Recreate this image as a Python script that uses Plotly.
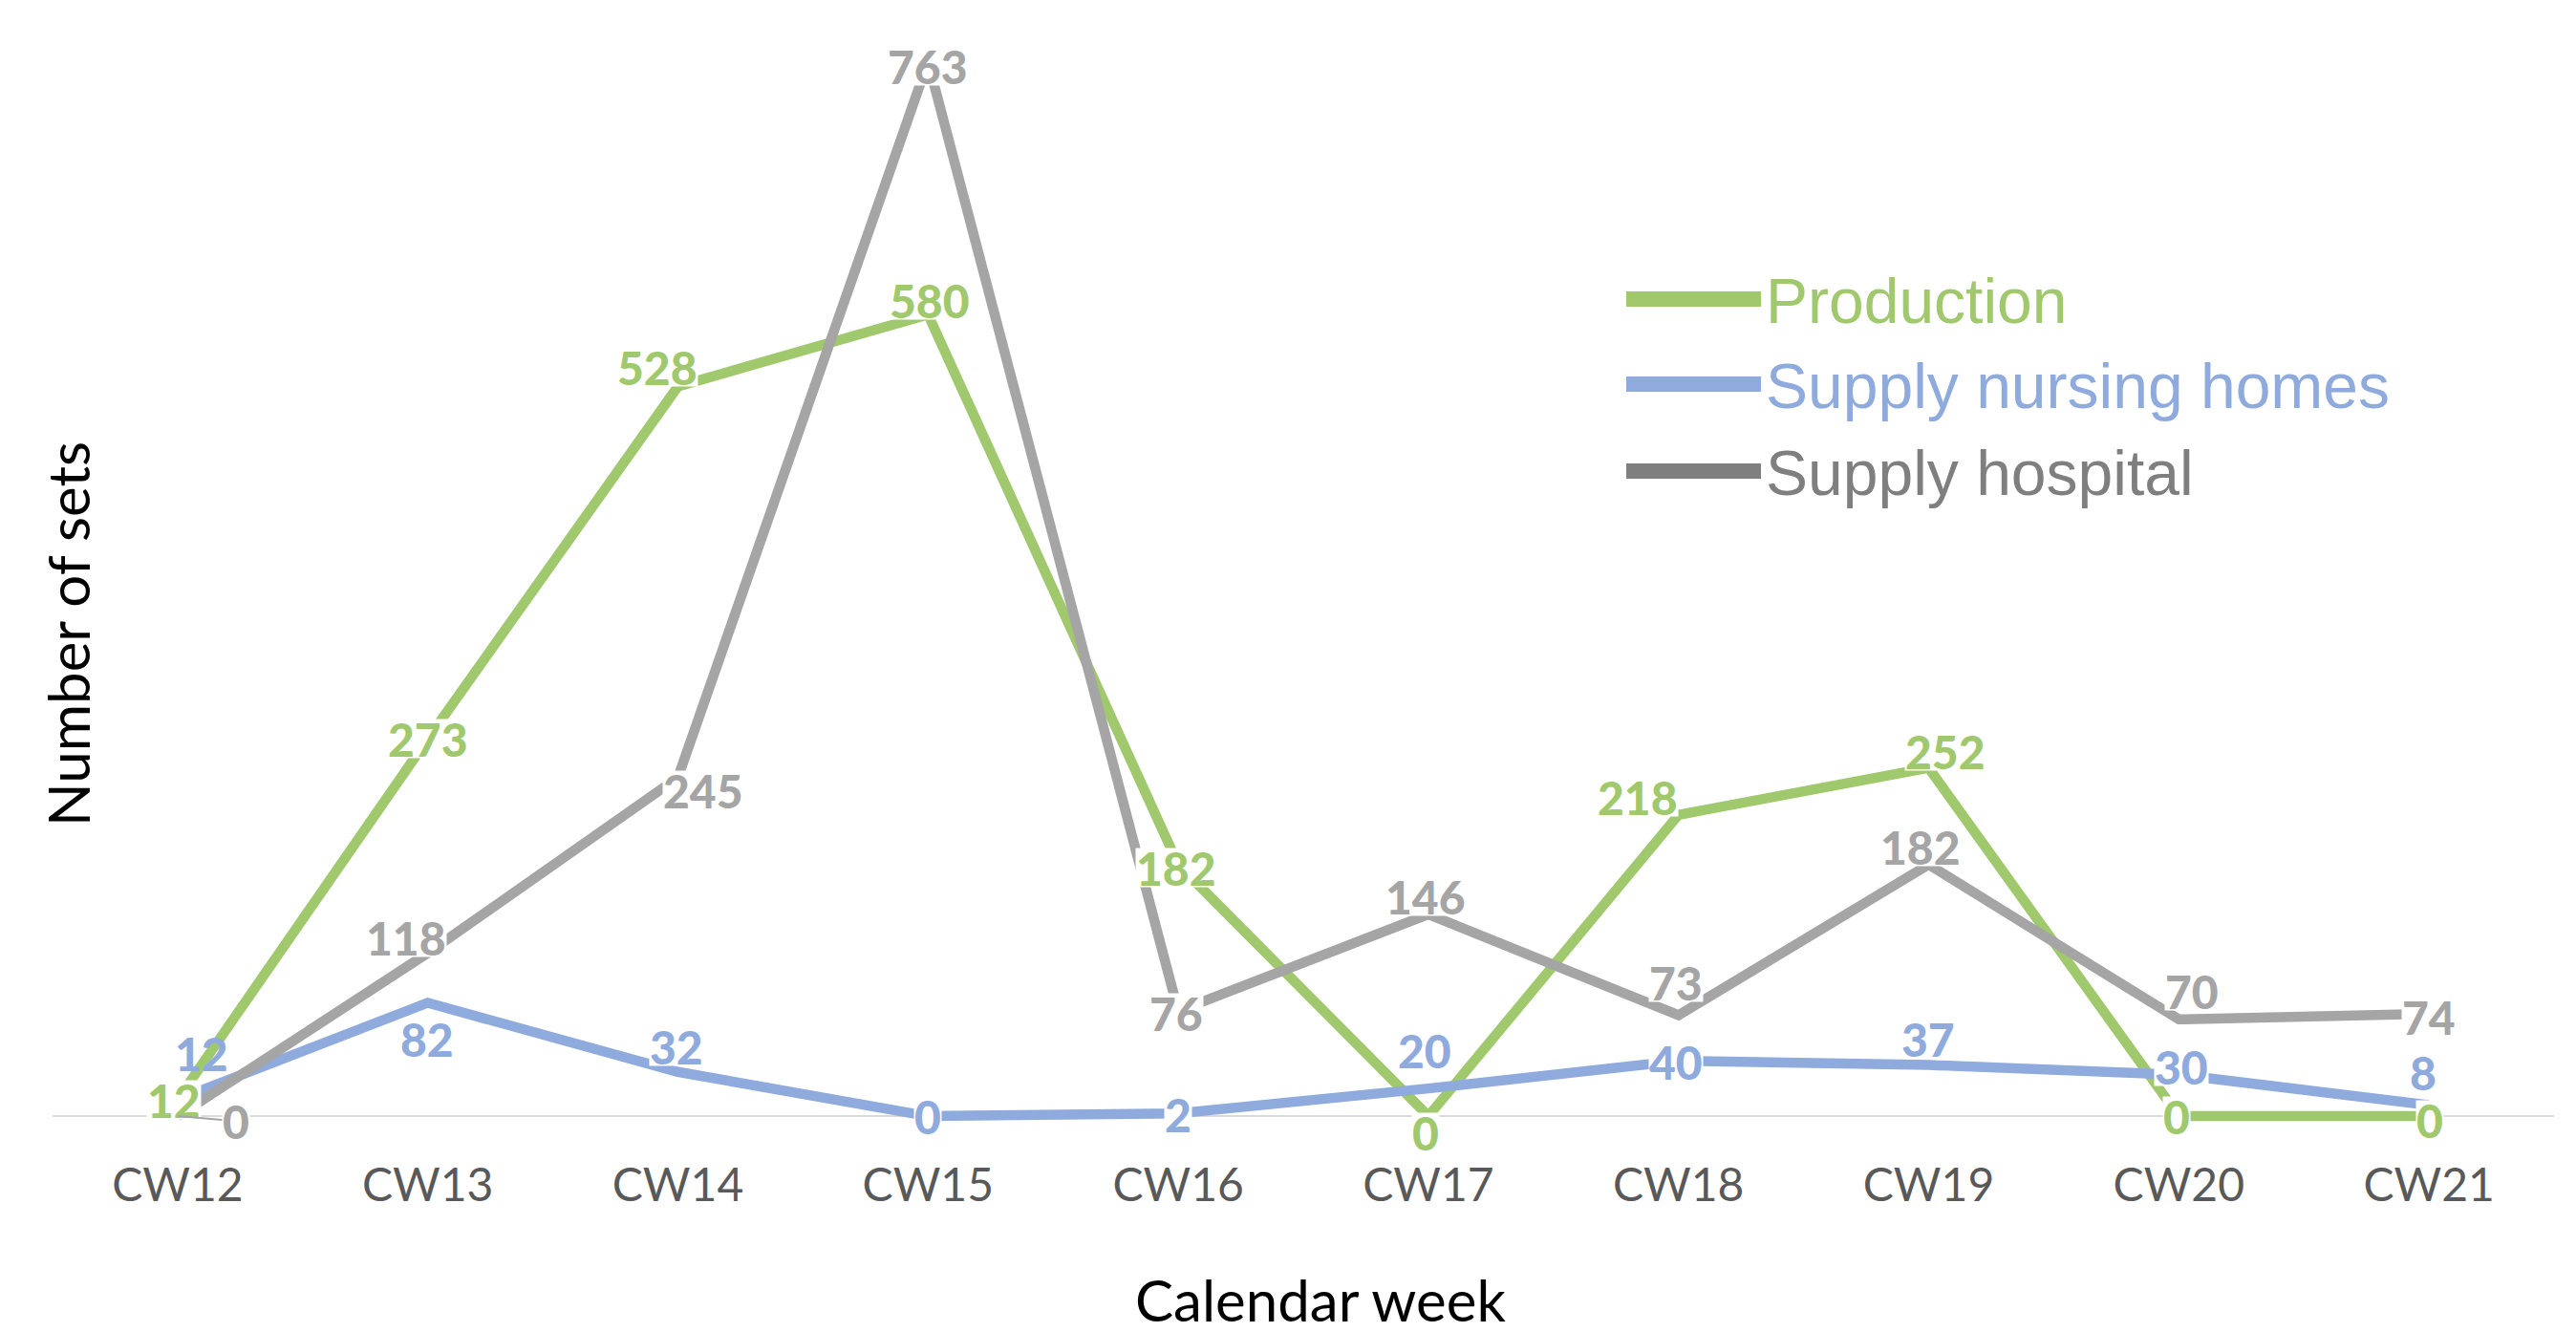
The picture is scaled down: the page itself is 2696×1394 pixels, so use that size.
import plotly.graph_objects as go

# ---------------- data ----------------
categories = ["CW12", "CW13", "CW14", "CW15", "CW16", "CW17", "CW18", "CW19", "CW20", "CW21"]
production = [12, 273, 528, 580, 182, 0, 218, 252, 0, 0]
nursing_homes = [12, 82, 32, 0, 2, 20, 40, 37, 30, 8]
hospital = [0, 118, 245, 763, 76, 146, 73, 182, 70, 74]
series_names = ["Production", "Supply nursing homes", "Supply hospital"]
x_title = "Calendar week"
y_title = "Number of sets"

# ---------------- styles / label offsets (pixels) ----------------
line_colors = ["#A0C86C", "#8FAADC", "#A5A5A5"]
legend_colors = ["#A0C86C", "#8FAADC", "#7F7F7F"]
label_offsets = [
    [(-4, 0), (0, 0), (-22, 20), (2, 15), (-2, -3), (-3, -17), (-43, 19), (17, 18), (-2, 0), (1, -4)],
    [(25, 49), (-1, -38), (-2, 27), (0, 0), (0, -1), (-4, 40), (-3, -1), (-1, 28), (3, 9), (-6, 35)],
    [(61, -5), (-23, 16), (26, -13), (0, -4), (-2, -2), (-3, 19), (-3, 34), (-9, 19), (14, 30), (0, -3)],
]

W, H = 2696, 1394
OFF = 8  # page body margin
# plot area in page pixels: x 55..2673, y 11..1197
L, R, T, B = 55 - OFF, W - 2673 + OFF, 11 - OFF, H - (1197 - OFF)
PW, PH = W - L - R, H - T - B


def pxx(x):  # page pixel -> paper
    return (x - OFF - L) / PW


def pxy(y):
    return (H - B - (y - OFF)) / PH


all_series = [production, nursing_homes, hospital]

fig = go.Figure()
for name, vals, col in zip(series_names, all_series, line_colors):
    fig.add_trace(go.Scatter(
        x=categories, y=vals, mode="lines", name=name,
        line=dict(color=col, width=10.5), showlegend=False, hoverinfo="x+y+name",
    ))

annotations = []
label_font = dict(family="Lato, 'Open Sans', sans-serif", size=48, weight=900)
for si, (vals, col) in enumerate(zip(all_series, line_colors)):
    for i, (c, v) in enumerate(zip(categories, vals)):
        dx, dy = label_offsets[si][i]
        bg = "rgba(255,255,255,1)"
        if si == 1 and i == 0:
            bg = "rgba(255,255,255,0)"
        ann = dict(
            x=c, y=v, xref="x", yref="y", text=str(v),
            font=dict(color=col, **label_font), bgcolor=bg, borderpad=0,
            xanchor="center", yanchor="middle", height=40,
        )
        if si == 2 and i == 0:
            # leader line from moved label back to its point
            ann.update(showarrow=True, ax=dx, ay=-dy, axref="pixel", ayref="pixel",
                       arrowhead=0, arrowwidth=2, arrowcolor="#A5A5A5", standoff=0,
                       startstandoff=0)
        else:
            ann.update(showarrow=False, xshift=dx, yshift=dy)
        annotations.append(ann)

# axis titles
annotations.append(dict(
    xref="paper", yref="paper", x=pxx(71), y=pxy(664), text=y_title, textangle=-90,
    showarrow=False, xanchor="center", yanchor="middle",
    font=dict(family="Lato, 'Open Sans', sans-serif", size=60, color="#000000"),
))
annotations.append(dict(
    xref="paper", yref="paper", x=pxx(1382), y=pxy(1360), text=x_title,
    showarrow=False, xanchor="center", yanchor="middle", height=52,
    font=dict(family="Lato, 'Open Sans', sans-serif", size=60, color="#000000"),
))

# manual legend
shapes = []
legend_y = [313, 402, 493]
for name, col, ly in zip(series_names, legend_colors, legend_y):
    shapes.append(dict(type="line", xref="paper", yref="paper",
                       x0=pxx(1702), x1=pxx(1843), y0=pxy(ly), y1=pxy(ly),
                       line=dict(color=col, width=16)))
    annotations.append(dict(
        xref="paper", yref="paper", x=pxx(1846), y=pxy(ly + 2), text=name,
        showarrow=False, xanchor="left", yanchor="middle",
        font=dict(family="'Liberation Sans', Arial, sans-serif", size=66, color=col),
    ))

# baseline at zero
shapes.append(dict(type="line", xref="paper", yref="y", x0=0, x1=1, y0=0, y1=0,
                   line=dict(color="#D9D9D9", width=2), layer="below"))

fig.update_layout(
    width=W, height=H,
    margin=dict(l=L, r=R, t=T, b=B, pad=0),
    paper_bgcolor="white", plot_bgcolor="white",
    annotations=annotations, shapes=shapes,
    showlegend=False,
)
fig.update_xaxes(
    type="category", range=[-0.5, 9.5], showgrid=False, zeroline=False, showline=False,
    ticks="", tickfont=dict(family="Lato, 'Open Sans', sans-serif", size=48, color="#595959"),
    ticklabelstandoff=11,
)
fig.update_yaxes(
    range=[-20, 800], showgrid=False, zeroline=False, showline=False,
    showticklabels=False, ticks="",
)

fig.write_html("out.html")
